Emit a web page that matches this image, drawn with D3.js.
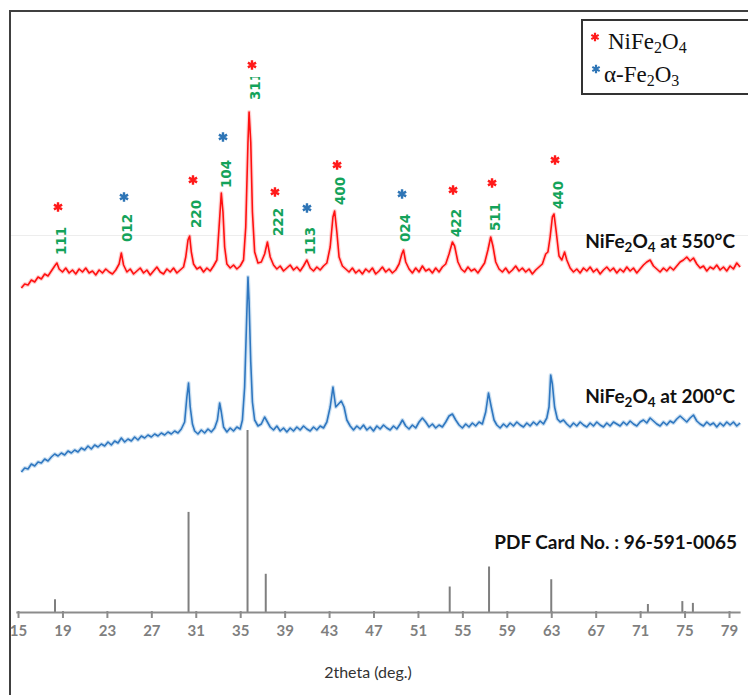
<!DOCTYPE html>
<html>
<head>
<meta charset="utf-8">
<script src="https://cdn.jsdelivr.net/npm/d3@7"></script>
<style>
  html, body { margin:0; padding:0; background:#fff; }
  svg { display:block; }
</style>
</head>
<body>
<div id="chart"></div>
<script>
// 2theta ticks shown on the axis
var tickValues = [15,19,23,27,31,35,39,43,47,51,55,59,63,67,71,75,79];

// NiFe2O4 at 550 C  [2theta, intensity a.u.]
var pattern550 = [
  [15.3,324],[15.6,328],[15.9,327],[16.2,332],[16.5,330],[16.8,335],[17.1,333],[17.4,338],[17.7,336],[18.0,341],
  [18.3,346],[18.5,349],[18.7,343],[19.0,340],[19.3,344],[19.6,339],[19.9,342],[20.2,338],[20.5,343],[20.8,340],
  [21.1,344],[21.4,339],[21.7,341],[22.0,337],[22.3,342],[22.6,339],[22.9,343],[23.2,340],[23.5,338],[23.8,342],
  [24.1,348],[24.3,359],[24.5,347],[24.8,340],[25.1,343],[25.4,338],[25.7,341],[26.0,344],[26.3,339],[26.6,342],
  [26.9,337],[27.2,341],[27.5,345],[27.8,340],[28.1,338],[28.4,343],[28.7,340],[29.0,344],[29.3,339],[29.6,342],
  [29.9,345],[30.1,355],[30.3,372],[30.45,376],[30.6,360],[30.8,348],[31.1,343],[31.4,345],[31.7,340],[32.0,344],
  [32.3,341],[32.6,346],[32.9,352],[33.1,385],[33.3,419],[33.45,400],[33.6,365],[33.8,348],[34.1,344],[34.4,347],
  [34.7,343],[35.0,346],[35.3,352],[35.5,385],[35.7,470],[35.8,500],[35.95,470],[36.1,400],[36.3,360],[36.6,349],
  [36.9,350],[37.2,358],[37.45,370],[37.7,355],[38.0,347],[38.3,343],[38.6,346],[38.9,341],[39.2,344],[39.5,347],
  [39.8,342],[40.1,345],[40.4,341],[40.7,346],[41.0,352],[41.3,344],[41.6,341],[41.9,345],[42.2,342],[42.5,346],
  [42.8,349],[43.1,365],[43.35,395],[43.5,401],[43.7,380],[43.9,355],[44.2,346],[44.5,343],[44.8,340],[45.1,344],
  [45.4,339],[45.7,342],[46.0,338],[46.3,343],[46.6,340],[46.9,344],[47.2,338],[47.5,341],[47.8,345],[48.1,340],
  [48.4,343],[48.7,339],[49.0,342],[49.3,348],[49.55,358],[49.7,362],[49.9,350],[50.2,343],[50.5,339],[50.8,344],
  [51.1,340],[51.4,346],[51.7,341],[52.0,343],[52.3,339],[52.6,344],[52.9,340],[53.2,345],[53.5,348],[53.8,358],
  [54.1,370],[54.3,366],[54.6,350],[54.9,343],[55.2,340],[55.5,345],[55.8,341],[56.1,343],[56.4,339],[56.7,344],
  [57.0,349],[57.3,362],[57.55,375],[57.75,366],[58.0,350],[58.3,343],[58.6,340],[58.9,344],[59.2,339],[59.5,342],
  [59.8,346],[60.1,341],[60.4,344],[60.7,340],[61.0,343],[61.3,338],[61.6,342],[61.9,345],[62.2,348],[62.5,358],
  [62.7,360],[62.9,375],[63.1,395],[63.25,398],[63.45,380],[63.7,356],[63.95,352],[64.2,360],[64.4,352],[64.7,344],
  [65.0,340],[65.3,343],[65.6,339],[65.9,344],[66.2,341],[66.5,345],[66.8,340],[67.1,343],[67.4,338],[67.7,342],
  [68.0,345],[68.3,341],[68.6,344],[68.9,339],[69.2,343],[69.5,340],[69.8,345],[70.1,341],[70.4,344],[70.7,339],
  [71.0,343],[71.3,347],[71.6,350],[71.9,352],[72.2,346],[72.5,343],[72.8,340],[73.1,344],[73.4,341],[73.7,345],
  [74.0,342],[74.3,346],[74.6,350],[74.9,352],[75.2,355],[75.5,351],[75.8,354],[76.1,348],[76.4,344],[76.7,346],
  [77.0,341],[77.3,345],[77.6,343],[77.9,347],[78.2,342],[78.5,345],[78.8,341],[79.1,346],[79.4,343],[79.7,349],
  [80.0,345]
];

// NiFe2O4 at 200 C  [2theta, intensity a.u.]
var pattern200 = [
  [15.3,140],[15.6,144],[15.9,143],[16.2,148],[16.5,146],[16.8,150],[17.1,149],[17.4,153],[17.7,151],[18.0,155],
  [18.3,158],[18.6,156],[18.9,159],[19.2,157],[19.5,161],[19.8,159],[20.1,162],[20.4,160],[20.7,164],[21.0,162],
  [21.3,166],[21.6,163],[21.9,167],[22.2,165],[22.5,168],[22.8,166],[23.1,170],[23.4,167],[23.7,171],[24.0,169],
  [24.3,174],[24.6,170],[24.9,173],[25.2,171],[25.5,175],[25.8,172],[26.1,176],[26.4,174],[26.7,177],[27.0,175],
  [27.3,178],[27.6,176],[27.9,179],[28.2,177],[28.5,180],[28.8,178],[29.1,181],[29.4,179],[29.7,183],[30.0,190],
  [30.2,215],[30.35,229],[30.5,205],[30.7,188],[30.9,181],[31.2,178],[31.5,182],[31.8,179],[32.1,183],[32.4,180],
  [32.7,184],[32.95,192],[33.15,209],[33.3,200],[33.5,185],[33.8,180],[34.1,184],[34.4,181],[34.7,185],[35.0,183],
  [35.2,192],[35.4,225],[35.6,300],[35.7,335],[35.8,310],[35.95,250],[36.1,210],[36.3,192],[36.6,186],[36.9,188],
  [37.2,195],[37.4,191],[37.7,185],[38.0,182],[38.3,186],[38.6,181],[38.9,184],[39.2,180],[39.5,184],[39.8,181],
  [40.1,185],[40.4,182],[40.7,186],[41.0,183],[41.3,181],[41.6,185],[41.9,182],[42.2,186],[42.5,184],[42.8,190],
  [43.1,205],[43.35,225],[43.6,205],[43.85,208],[44.1,211],[44.35,205],[44.6,192],[44.9,186],[45.2,182],[45.5,186],
  [45.8,183],[46.1,187],[46.4,182],[46.7,185],[47.0,181],[47.3,186],[47.6,183],[47.9,187],[48.2,184],[48.5,182],
  [48.8,186],[49.1,183],[49.4,188],[49.6,192],[49.9,186],[50.2,183],[50.5,187],[50.8,184],[51.1,190],[51.4,194],
  [51.7,190],[52.0,185],[52.3,188],[52.6,184],[52.9,187],[53.2,185],[53.5,190],[53.8,196],[54.1,198],[54.4,192],
  [54.7,187],[55.0,184],[55.3,188],[55.6,185],[55.9,189],[56.2,186],[56.5,190],[56.8,188],[57.1,200],[57.35,219],
  [57.6,205],[57.85,192],[58.1,187],[58.4,184],[58.7,188],[59.0,185],[59.3,189],[59.6,186],[59.9,190],[60.2,187],
  [60.5,185],[60.8,189],[61.1,186],[61.4,190],[61.7,187],[62.0,191],[62.3,188],[62.6,194],[62.8,205],[62.95,237],
  [63.1,228],[63.3,205],[63.55,193],[63.8,190],[64.1,192],[64.4,188],[64.7,185],[65.0,189],[65.3,186],[65.6,190],
  [65.9,187],[66.2,185],[66.5,189],[66.8,186],[67.1,190],[67.4,187],[67.7,185],[68.0,189],[68.3,186],[68.6,190],
  [68.9,188],[69.2,186],[69.5,190],[69.8,187],[70.1,191],[70.4,188],[70.7,186],[71.0,190],[71.3,192],[71.6,189],
  [71.9,194],[72.2,191],[72.5,188],[72.8,186],[73.1,190],[73.4,187],[73.7,191],[74.0,189],[74.3,193],[74.6,196],
  [74.9,193],[75.2,190],[75.5,194],[75.8,197],[76.1,191],[76.4,188],[76.7,186],[77.0,190],[77.3,187],[77.6,189],
  [77.9,185],[78.2,189],[78.5,186],[78.8,190],[79.1,187],[79.4,190],[79.7,186],[80.0,189]
];

// reference card sticks
var cardTheta = [18.33, 30.35, 35.66, 37.3, 53.86, 57.4, 63.0, 71.7, 74.8, 75.75];
var cardIntensity = [7, 55, 100, 21, 14, 25, 18, 4.4, 6, 5];

// peak labels (hkl), phase: 0 = NiFe2O4, 1 = alpha-Fe2O3
var hklText   = ["111","012","220","104","311","222","113","400","024","422","511","440"];
var hklTheta  = [18.6, 24.54, 30.75, 33.45, 36.06, 38.13, 41.01, 43.72, 49.57, 54.16, 57.67, 63.34];
var hklPhase  = [0, 1, 0, 1, 0, 0, 1, 0, 1, 0, 0, 0];
var starLevel = [405, 415, 432, 475, 547, 420, 404, 447, 418, 422, 429, 452];
var textLevel = [371, 384, 398, 438, 526, 390, 371, 421, 384, 389, 395, 417];

var phaseColor = ["#ff1a1a", "#2e75b6"];

(function(){
  var W = 748, H = 695;
  var svg = d3.select("#chart").append("svg").attr("width", W).attr("height", H);

  var x = d3.scaleLinear().domain([14.8, 80]).range([15.8, 740.1]);
  var y = d3.scaleLinear().domain([0, 600]).range([612, 12]);
  var yCard = d3.scaleLinear().domain([0, 100]).range([612, 430]);

  // outer frame (left + top)
  svg.append("path").attr("d", "M10,695V11H748")
    .attr("fill", "none").attr("stroke", "#404040").attr("stroke-width", 2);
  // faint guide line
  svg.append("line").attr("x1", 11).attr("x2", 748).attr("y1", 235.5).attr("y2", 235.5)
    .attr("stroke", "#ededed").attr("stroke-width", 1);

  // card sticks
  svg.append("g").selectAll("line").data(cardTheta).join("line")
    .attr("x1", function(d){ return x(d); }).attr("x2", function(d){ return x(d); })
    .attr("y1", y(0)).attr("y2", function(d, i){ return yCard(cardIntensity[i]); })
    .attr("stroke", "#7f7f7f").attr("stroke-width", 2);

  // axis
  var axis = d3.axisBottom(x).tickValues(tickValues).tickSizeInner(6).tickSizeOuter(0).tickPadding(7);
  var gx = svg.append("g").attr("transform", "translate(0," + y(0) + ")").call(axis);
  gx.select(".domain").attr("stroke", "#8c8c8c").attr("stroke-width", 2);
  gx.selectAll(".tick line").attr("stroke", "#8c8c8c").attr("stroke-width", 2).attr("y1", -1);
  gx.selectAll(".tick text").attr("fill", "#7f7f7f")
    .style("font-family", "Lato, 'Open Sans', sans-serif").style("font-size", "15px").style("font-weight", "bold");

  svg.append("text").attr("x", 368).attr("y", 678).attr("text-anchor", "middle")
    .style("font-family", "Lato, 'Open Sans', sans-serif").style("font-size", "16px").attr("fill", "#333")
    .text("2theta (deg.)");

  // patterns
  var line = d3.line().x(function(d){ return x(d[0]); }).y(function(d){ return y(d[1]); });
  function drawPattern(data, glow, core){
    svg.append("path").datum(data).attr("d", line).attr("fill", "none")
      .attr("stroke", glow).attr("stroke-width", 4).attr("stroke-opacity", 0.3).attr("stroke-linejoin", "round");
    svg.append("path").datum(data).attr("d", line).attr("fill", "none")
      .attr("stroke", core).attr("stroke-width", 1.6).attr("stroke-linejoin", "round");
  }
  drawPattern(pattern200, "#5b9bd5", "#2f77c0");
  drawPattern(pattern550, "#ff6b6b", "#ff1010");

  // hkl labels + stars
  svg.append("defs").append("clipPath").attr("id", "clip311")
    .append("rect").attr("x", 0).attr("y", 77).attr("width", W).attr("height", H);
  var star = d3.symbol().type(d3.symbolAsterisk).size(62);
  var lab = svg.append("g");
  hklText.forEach(function(t, i){
    lab.append("path").attr("d", star)
      .attr("transform", "translate(" + x(hklTheta[i]) + "," + y(starLevel[i]) + ")")
      .attr("fill", "none").attr("stroke", phaseColor[hklPhase[i]]).attr("stroke-width", 2.4);
    var tx = x(hklTheta[i]) + 3, ty = y(textLevel[i]);
    // 311 is cut at the top like in the original figure
    var holder = t === "311" ? lab.append("g").attr("clip-path", "url(#clip311)") : lab;
    holder.append("text")
      .attr("transform", "translate(" + tx + "," + ty + ") rotate(-90)")
      .attr("text-anchor", "middle").attr("dy", "0.36em")
      .style("font-family", "'DejaVu Sans', sans-serif").style("font-size", "13.5px").style("font-weight", "bold")
      .attr("fill", "#14a35a").text(t);
  });

  // series names
  function formula(sel, subSize){
    sel.append("tspan").text("NiFe");
    sel.append("tspan").attr("dy", 4).style("font-size", subSize + "px").text("2");
    sel.append("tspan").attr("dy", -4).text("O");
    sel.append("tspan").attr("dy", 4).style("font-size", subSize + "px").text("4");
    return sel;
  }
  var nameFont = "Lato, 'Open Sans', sans-serif";
  [["550", 248], ["200", 403]].forEach(function(s){
    var t = svg.append("text").attr("x", 735).attr("y", s[1]).attr("text-anchor", "end")
      .style("font-family", nameFont).style("font-size", "19px").style("font-weight", "bold").attr("fill", "#111");
    formula(t, 13.5);
    t.append("tspan").attr("dy", -4).text(" at " + s[0] + "°C");
  });
  svg.append("text").attr("x", 737).attr("y", 549).attr("text-anchor", "end")
    .style("font-family", nameFont).style("font-size", "19px").style("font-weight", "bold").attr("fill", "#111")
    .text("PDF Card No. : 96-591-0065");

  // legend
  var lg = svg.append("g");
  lg.append("rect").attr("x", 582).attr("y", 20).attr("width", 180).attr("height", 74)
    .attr("fill", "#fff").attr("stroke", "#333").attr("stroke-width", 2);
  var smallStar = d3.symbol().type(d3.symbolAsterisk).size(50);
  lg.append("path").attr("d", smallStar).attr("transform", "translate(595,37)")
    .attr("fill", "none").attr("stroke", phaseColor[0]).attr("stroke-width", 2.2);
  lg.append("path").attr("d", smallStar).attr("transform", "translate(596,69)")
    .attr("fill", "none").attr("stroke", phaseColor[1]).attr("stroke-width", 2.2);
  var serif = "'Liberation Serif', 'Times New Roman', serif";
  var l1 = lg.append("text").attr("x", 608).attr("y", 49)
    .style("font-family", serif).style("font-size", "23px").attr("fill", "#111");
  formula(l1, 16);
  var l2 = lg.append("text").attr("x", 604).attr("y", 82)
    .style("font-family", serif).style("font-size", "23px").attr("fill", "#111");
  l2.append("tspan").text("α-Fe");
  l2.append("tspan").attr("dy", 4).style("font-size", "16px").text("2");
  l2.append("tspan").attr("dy", -4).text("O");
  l2.append("tspan").attr("dy", 4).style("font-size", "16px").text("3");
})();
</script>
</body>
</html>
